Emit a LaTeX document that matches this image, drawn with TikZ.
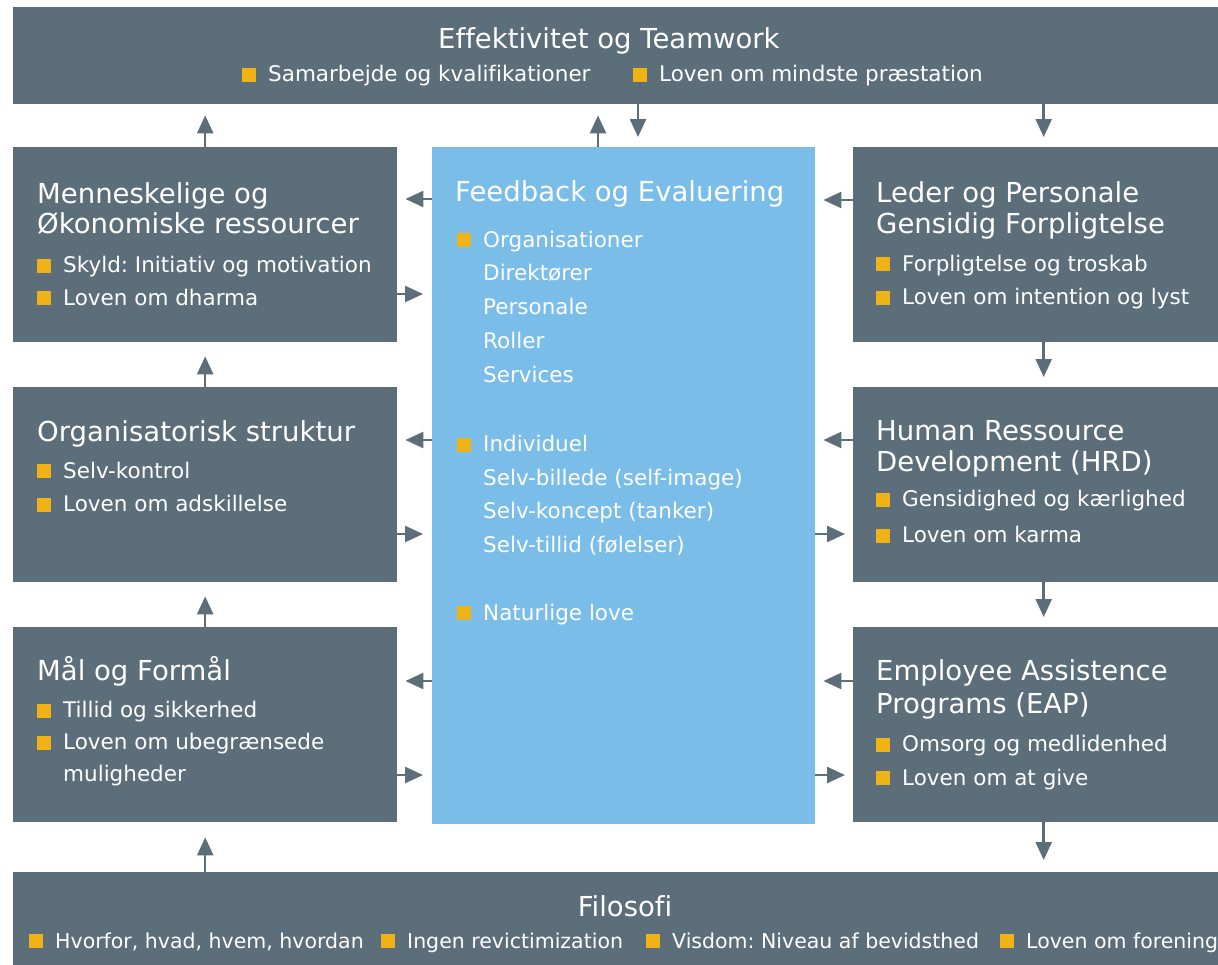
\documentclass[tikz,border=0pt]{standalone}
\usepackage{fontspec}
\setmainfont[Ligatures=NoCommon]{DejaVu Sans}
\usetikzlibrary{arrows.meta}
\frenchspacing

\definecolor{slate}{RGB}{92,110,122}
\definecolor{sky}{RGB}{122,189,232}
\definecolor{bulletyellow}{RGB}{240,178,20}

\newcommand{\bul}{\textcolor{bulletyellow}{\rule{14pt}{14pt}}\hspace{12pt}}

\tikzset{
    box/.style={fill=slate, inner sep=0, anchor=north west,
        minimum width=384, minimum height=195},
    bar/.style={fill=slate, inner sep=0, anchor=north west,
        minimum width=1230, minimum height=97},
    head/.style={anchor=base west, inner sep=0, text=white,
        font=\fontsize{27.5}{30}\selectfont},
    txt/.style={anchor=base west, inner sep=0, text=white,
        font=\fontsize{21.5}{24}\selectfont},
    arr/.style={draw=slate, line width=2.5pt,
        -{Triangle[length=18pt, width=16pt]}},
}

\begin{document}
\begin{tikzpicture}[x=1pt, y=-1pt]
    \useasboundingbox (0,0) rectangle (1218,964);
    \clip (0,0) rectangle (1218,964);

    % bars and boxes
    \node[bar] (top) at (13,7) {};
    \node[bar, minimum height=100] (filo) at (13,872) {};

    \node[box] (mennesk) at (13,147) {};
    \node[box] (org) at (13,387) {};
    \node[box] (maal) at (13,627) {};

    \node[box, fill=sky, minimum width=383, minimum height=677] (feedback) at (432,147) {};

    \node[box, minimum width=381] (leder) at (853,147) {};
    \node[box, minimum width=381] (hrd) at (853,387) {};
    \node[box, minimum width=381] (eap) at (853,627) {};

    % top
    \node[head] (top-h) at (438,48.5) {Effektivitet og Teamwork};
    \node[txt] (top-1) at (242,81.5) {\bul Samarbejde og kvalifikationer};
    \node[txt] (top-2) at (633,81.5) {\bul Loven om mindste præstation};

    % left column
    \node[head] (mennesk-h1) at (37,203) {Menneskelige og};
    \node[head] (mennesk-h2) at (37,233.5) {Økonomiske ressourcer};
    \node[txt] (mennesk-1) at (37,272.5) {\bul Skyld: Initiativ og motivation};
    \node[txt] (mennesk-2) at (37,305) {\bul Loven om dharma};

    \node[head] (org-h) at (37,441) {Organisatorisk struktur};
    \node[txt] (org-1) at (37,478) {\bul Selv-kontrol};
    \node[txt] (org-2) at (37,511.5) {\bul Loven om adskillelse};

    \node[head] (maal-h) at (37,680) {Mål og Formål};
    \node[txt] (maal-1) at (37,717.5) {\bul Tillid og sikkerhed};
    \node[txt] (maal-2) at (37,749.5) {\bul Loven om ubegrænsede};
    \node[txt] (maal-3) at (63,781.5) {muligheder};

    % center
    \node[head] (feedback-h) at (455,201.5) {Feedback og Evaluering};
    \node[txt] (fb-1) at (457,247) {\bul Organisationer};
    \node[txt] (fb-2) at (483,280.5) {Direktører};
    \node[txt] (fb-3) at (483,314.5) {Personale};
    \node[txt] (fb-4) at (483,348.5) {Roller};
    \node[txt] (fb-5) at (483,382.5) {Services};
    \node[txt] (fb-6) at (457,451.5) {\bul Individuel};
    \node[txt] (fb-7) at (483,485) {Selv-billede (self-image)};
    \node[txt] (fb-8) at (483,518.5) {Selv-koncept (tanker)};
    \node[txt] (fb-9) at (483,552) {Selv-tillid (følelser)};
    \node[txt] (fb-10) at (457,620) {\bul Naturlige love};

    % right column
    \node[head] (leder-h1) at (876,202) {Leder og Personale};
    \node[head] (leder-h2) at (876,233) {Gensidig Forpligtelse};
    \node[txt] (leder-1) at (876,271) {\bul Forpligtelse og troskab};
    \node[txt] (leder-2) at (876,304.5) {\bul Loven om intention og lyst};

    \node[head] (hrd-h1) at (876,440.5) {Human Ressource};
    \node[head] (hrd-h2) at (876,471.5) {Development (HRD)};
    \node[txt] (hrd-1) at (876,506.5) {\bul Gensidighed og kærlighed};
    \node[txt] (hrd-2) at (876,542.5) {\bul Loven om karma};

    \node[head] (eap-h1) at (876,680.5) {Employee Assistence};
    \node[head] (eap-h2) at (876,713) {Programs (EAP)};
    \node[txt] (eap-1) at (876,751.5) {\bul Omsorg og medlidenhed};
    \node[txt] (eap-2) at (876,785) {\bul Loven om at give};

    % bottom
    \node[head, anchor=base] (filo-h) at (625,916.5) {Filosofi};
    \node[txt, font=\fontsize{20.5}{23}\selectfont] (filo-1) at (29,948) {\bul Hvorfor, hvad, hvem, hvordan};
    \node[txt, font=\fontsize{20.5}{23}\selectfont] (filo-2) at (381,948) {\bul Ingen revictimization};
    \node[txt, font=\fontsize{20.5}{23}\selectfont] (filo-3) at (646,948) {\bul Visdom: Niveau af bevidsthed};
    \node[txt, font=\fontsize{20.5}{23}\selectfont] (filo-4) at (1000,948) {\bul Loven om forening};

    % vertical arrows
    \draw[arr, shorten >=11pt] (mennesk.north) -- (mennesk.north |- top.south);
    \draw[arr, shorten >=14pt] (org.north) -- (mennesk.south);
    \draw[arr, shorten >=14pt] (maal.north) -- (org.south);
    \draw[arr, shorten >=15pt] (maal.south |- filo.north) -- (maal.south);

    \draw[arr, shorten >=11pt] (598,0 |- feedback.north) -- (598,0 |- top.south);
    \draw[arr, shorten >=10pt] (638,0 |- top.south) -- (638,0 |- feedback.north);

    \draw[arr, shorten >=10pt] (leder.north |- top.south) -- (leder.north);
    \draw[arr, shorten >=10pt] (leder.south) -- (hrd.north);
    \draw[arr, shorten >=10pt] (hrd.south) -- (eap.north);
    \draw[arr, shorten >=12pt] (eap.south) -- (eap.south |- filo.north);

    % horizontal arrows
    \draw[arr, shorten >=8pt] (feedback.west |- 0,199) -- (mennesk.east |- 0,199);
    \draw[arr, shorten >=9pt] (mennesk.east |- 0,294) -- (feedback.west |- 0,294);
    \draw[arr, shorten >=8pt] (feedback.west |- 0,440) -- (org.east |- 0,440);
    \draw[arr, shorten >=9pt] (org.east |- 0,534) -- (feedback.west |- 0,534);
    \draw[arr, shorten >=8pt] (feedback.west |- 0,681) -- (maal.east |- 0,681);
    \draw[arr, shorten >=9pt] (maal.east |- 0,775) -- (feedback.west |- 0,775);

    \draw[arr, shorten >=8pt] (leder.west |- 0,200) -- (feedback.east |- 0,200);
    \draw[arr, shorten >=8pt] (hrd.west |- 0,440) -- (feedback.east |- 0,440);
    \draw[arr, shorten >=8pt] (feedback.east |- 0,534) -- (hrd.west |- 0,534);
    \draw[arr, shorten >=8pt] (eap.west |- 0,681) -- (feedback.east |- 0,681);
    \draw[arr, shorten >=8pt] (feedback.east |- 0,775) -- (eap.west |- 0,775);
\end{tikzpicture}
\end{document}
